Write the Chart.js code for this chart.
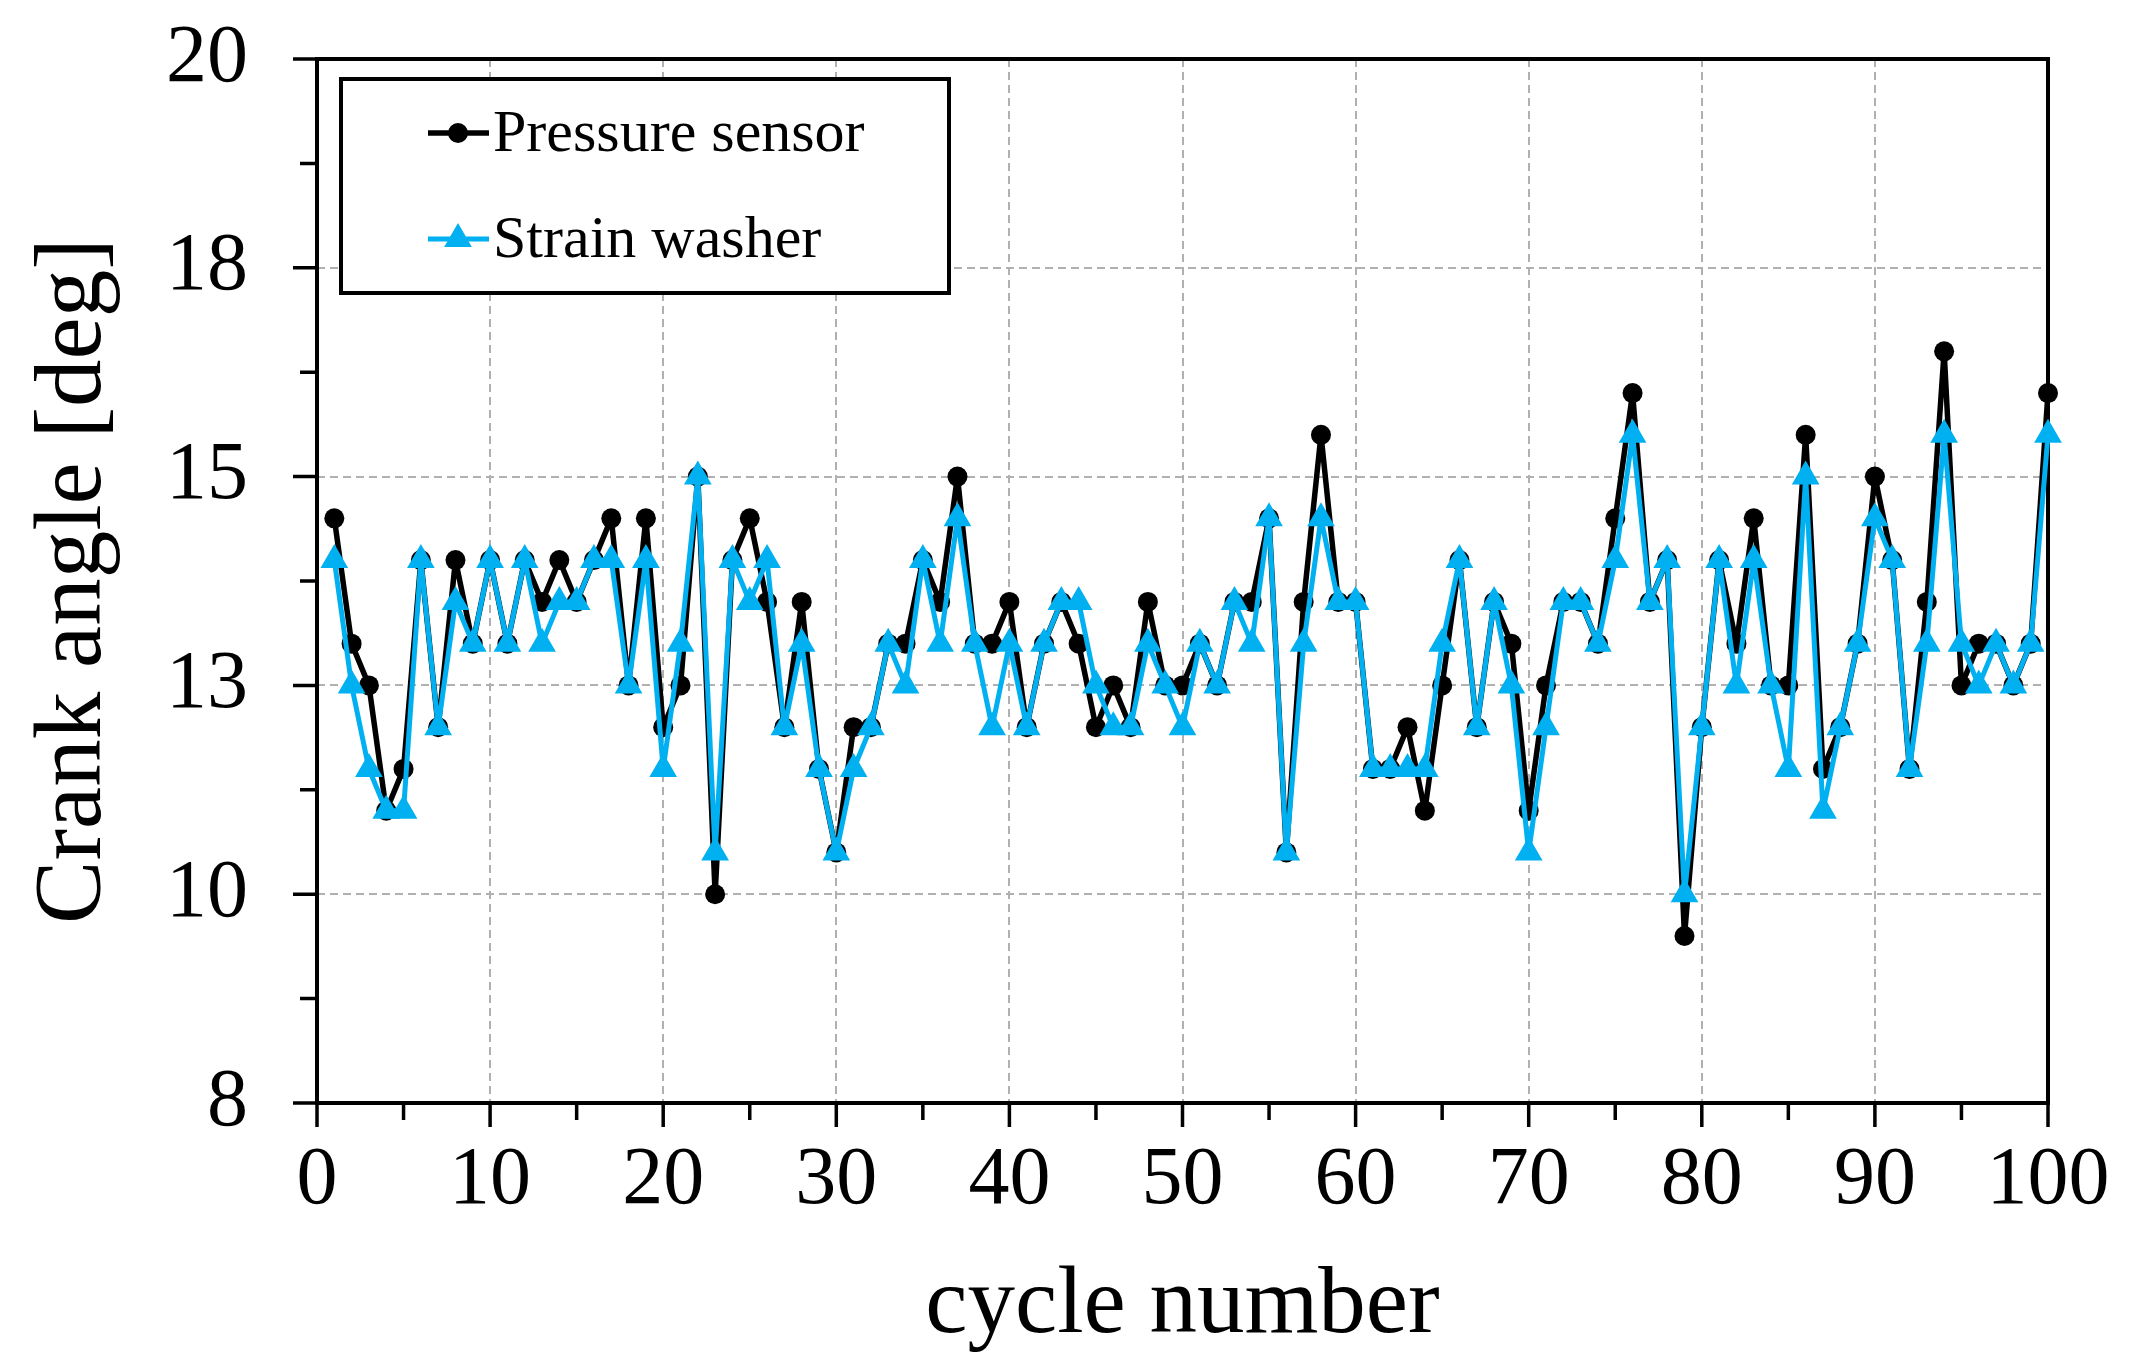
<!DOCTYPE html>
<html>
<head>
<meta charset="utf-8">
<script src="https://cdn.jsdelivr.net/npm/chart.js"></script>
<style>
    html, body { margin: 0; padding: 0; background: #fff; }
    canvas { display: block; }
</style>
</head>
<body>
<canvas id="crank-chart" width="2130" height="1369"></canvas>
<script>
const cycles = [
    1, 2, 3, 4, 5, 6, 7, 8, 9, 10, 11, 12, 13, 14, 15, 16, 17, 18, 19, 20,
    21, 22, 23, 24, 25, 26, 27, 28, 29, 30, 31, 32, 33, 34, 35, 36, 37, 38, 39, 40,
    41, 42, 43, 44, 45, 46, 47, 48, 49, 50, 51, 52, 53, 54, 55, 56, 57, 58, 59, 60,
    61, 62, 63, 64, 65, 66, 67, 68, 69, 70, 71, 72, 73, 74, 75, 76, 77, 78, 79, 80,
    81, 82, 83, 84, 85, 86, 87, 88, 89, 90, 91, 92, 93, 94, 95, 96, 97, 98, 99, 100
];

const pressureSensor = [
    14.72, 13.28, 12.80, 11.36, 11.84, 14.24, 12.32, 14.24, 13.28, 14.24,
    13.28, 14.24, 13.76, 14.24, 13.76, 14.24, 14.72, 12.80, 14.72, 12.32,
    12.80, 15.20, 10.40, 14.24, 14.72, 13.76, 12.32, 13.76, 11.84, 10.88,
    12.32, 12.32, 13.28, 13.28, 14.24, 13.76, 15.20, 13.28, 13.28, 13.76,
    12.32, 13.28, 13.76, 13.28, 12.32, 12.80, 12.32, 13.76, 12.80, 12.80,
    13.28, 12.80, 13.76, 13.76, 14.72, 10.88, 13.76, 15.68, 13.76, 13.76,
    11.84, 11.84, 12.32, 11.36, 12.80, 14.24, 12.32, 13.76, 13.28, 11.36,
    12.80, 13.76, 13.76, 13.28, 14.72, 16.16, 13.76, 14.24, 9.92, 12.32,
    14.24, 13.28, 14.72, 12.80, 12.80, 15.68, 11.84, 12.32, 13.28, 15.20,
    14.24, 11.84, 13.76, 16.64, 12.80, 13.28, 13.28, 12.80, 13.28, 16.16
];

const strainWasher = [
    14.24, 12.80, 11.84, 11.36, 11.36, 14.24, 12.32, 13.76, 13.28, 14.24,
    13.28, 14.24, 13.28, 13.76, 13.76, 14.24, 14.24, 12.80, 14.24, 11.84,
    13.28, 15.20, 10.88, 14.24, 13.76, 14.24, 12.32, 13.28, 11.84, 10.88,
    11.84, 12.32, 13.28, 12.80, 14.24, 13.28, 14.72, 13.28, 12.32, 13.28,
    12.32, 13.28, 13.76, 13.76, 12.80, 12.32, 12.32, 13.28, 12.80, 12.32,
    13.28, 12.80, 13.76, 13.28, 14.72, 10.88, 13.28, 14.72, 13.76, 13.76,
    11.84, 11.84, 11.84, 11.84, 13.28, 14.24, 12.32, 13.76, 12.80, 10.88,
    12.32, 13.76, 13.76, 13.28, 14.24, 15.68, 13.76, 14.24, 10.40, 12.32,
    14.24, 12.80, 14.24, 12.80, 11.84, 15.20, 11.36, 12.32, 13.28, 14.72,
    14.24, 11.84, 13.28, 15.68, 13.28, 12.80, 13.28, 12.80, 13.28, 15.68
];

const xTickLabels = ['0', '10', '20', '30', '40', '50', '60', '70', '80', '90', '100'];
const yTickLabels = ['8', '10', '13', '15', '18', '20'];

const seriesNames = ['Pressure sensor', 'Strain washer'];
const blue = '#00b0f0';
const serif = '"Liberation Serif", "Times New Roman", serif';

function initializeCrankChart() {
    const ctx = document.getElementById('crank-chart').getContext('2d');

    // frame round the plot area, drawn under the lines
    const plotFrame = {
        id: 'plotFrame',
        beforeDatasetsDraw(chart) {
            const {ctx, chartArea: {left, top, right, bottom}} = chart;
            ctx.save();
            ctx.strokeStyle = '#000';
            ctx.lineWidth = 4;
            ctx.strokeRect(left, top, right - left, bottom - top);
            ctx.restore();
        }
    };

    // outward tick marks, longer on labelled ticks
    const tickMarks = {
        id: 'tickMarks',
        afterDraw(chart) {
            const {ctx, chartArea: {left, bottom}, scales: {x, y}} = chart;
            ctx.save();
            ctx.strokeStyle = '#000';
            ctx.lineWidth = 3.5;
            ctx.beginPath();
            x.ticks.forEach((tick) => {
                const px = x.getPixelForValue(tick.value);
                const len = tick.value % 10 === 0 ? 24 : 17;
                ctx.moveTo(px, bottom);
                ctx.lineTo(px, bottom + len);
            });
            y.ticks.forEach((tick, index) => {
                const py = y.getPixelForValue(tick.value);
                const len = index % 2 === 0 ? 24 : 17;
                ctx.moveTo(left, py);
                ctx.lineTo(left - len, py);
            });
            ctx.stroke();
            ctx.restore();
        }
    };

    const boxedLegend = {
        id: 'boxedLegend',
        afterDraw(chart) {
            const {ctx, data} = chart;
            const box = {x: 341, y: 79, w: 608, h: 214};
            ctx.save();
            ctx.fillStyle = '#fff';
            ctx.fillRect(box.x, box.y, box.w, box.h);
            ctx.strokeStyle = '#000';
            ctx.lineWidth = 4;
            ctx.strokeRect(box.x, box.y, box.w, box.h);

            const rows = [133, 239];
            data.datasets.forEach((ds, i) => {
                const yPos = rows[i];
                ctx.strokeStyle = ds.borderColor;
                ctx.lineWidth = ds.borderWidth;
                ctx.beginPath();
                ctx.moveTo(428, yPos);
                ctx.lineTo(489, yPos);
                ctx.stroke();

                ctx.fillStyle = ds.pointBackgroundColor;
                ctx.beginPath();
                if (ds.pointStyle === 'triangle') {
                    const r = ds.pointRadius;
                    ctx.moveTo(458, yPos - r);
                    ctx.lineTo(458 + r * 0.866, yPos + r / 2);
                    ctx.lineTo(458 - r * 0.866, yPos + r / 2);
                    ctx.closePath();
                } else {
                    ctx.arc(458, yPos, ds.pointRadius, 0, Math.PI * 2);
                }
                ctx.fill();

                ctx.fillStyle = '#000';
                ctx.font = '60px ' + serif;
                ctx.textBaseline = 'middle';
                ctx.textAlign = 'left';
                ctx.fillText(ds.label, 493, yPos + 2);
            });
            ctx.restore();
        }
    };

    const crankChart = new Chart(ctx, {
        type: 'line',
        data: {
            labels: cycles,
            datasets: [{
                label: seriesNames[0],
                data: cycles.map((c, i) => ({x: c, y: pressureSensor[i]})),
                borderColor: '#000',
                borderWidth: 5.5,
                borderJoinStyle: 'round',
                pointStyle: 'circle',
                pointRadius: 10,
                pointBorderWidth: 0,
                pointBackgroundColor: '#000',
                pointBorderColor: '#000',
                tension: 0,
                clip: 20,
                order: 1
            }, {
                label: seriesNames[1],
                data: cycles.map((c, i) => ({x: c, y: strainWasher[i]})),
                borderColor: blue,
                borderWidth: 5,
                borderJoinStyle: 'round',
                pointStyle: 'triangle',
                pointRadius: 16,
                pointBorderWidth: 0,
                pointBackgroundColor: blue,
                pointBorderColor: blue,
                tension: 0,
                clip: 20,
                order: 0
            }]
        },
        options: {
            responsive: false,
            animation: false,
            devicePixelRatio: 1,
            layout: {
                padding: {top: 59, right: 82, left: 0, bottom: 0}
            },
            scales: {
                x: {
                    type: 'linear',
                    min: 0,
                    max: 100,
                    afterFit(scale) {
                        scale.height = 266;
                        scale.paddingLeft = 0;
                        scale.paddingRight = 0;
                    },
                    grid: {
                        drawTicks: false,
                        lineWidth: 2,
                        borderDash: [8, 5],
                        color: (c) => (c.tick && c.tick.value % 10 === 0) ? '#b0b0b0' : 'rgba(0,0,0,0)'
                    },
                    border: {display: false, dash: [8, 5]},
                    ticks: {
                        stepSize: 5,
                        autoSkip: false,
                        maxRotation: 0,
                        minRotation: 0,
                        padding: 37,
                        color: '#000',
                        font: {family: serif, size: 82, lineHeight: 1},
                        callback: (value) => value % 10 === 0 ? xTickLabels[value / 10] : ''
                    },
                    title: {
                        display: true,
                        text: 'cycle number',
                        color: '#000',
                        font: {family: serif, size: 95, lineHeight: 1},
                        padding: {bottom: 14}
                    }
                },
                y: {
                    min: 8,
                    max: 20,
                    afterFit(scale) {
                        scale.width = 317;
                        scale.paddingTop = 0;
                        scale.paddingBottom = 0;
                    },
                    grid: {
                        drawTicks: false,
                        lineWidth: 2,
                        borderDash: [8, 5],
                        color: (c) => (c.index % 2 === 0) ? '#b0b0b0' : 'rgba(0,0,0,0)'
                    },
                    border: {display: false, dash: [8, 5]},
                    ticks: {
                        stepSize: 1.2,
                        autoSkip: false,
                        padding: 69,
                        color: '#000',
                        font: {family: serif, size: 82, lineHeight: 1},
                        callback: (value, index) => index % 2 === 0 ? yTickLabels[index / 2] : ''
                    },
                    title: {
                        display: true,
                        text: 'Crank angle [deg]',
                        color: '#000',
                        font: {family: serif, size: 95, lineHeight: 1},
                        padding: {top: 28}
                    }
                }
            },
            plugins: {
                legend: {display: false},
                tooltip: {enabled: false}
            }
        },
        plugins: [plotFrame, tickMarks, boxedLegend]
    });
}

initializeCrankChart();
</script>
</body>
</html>
